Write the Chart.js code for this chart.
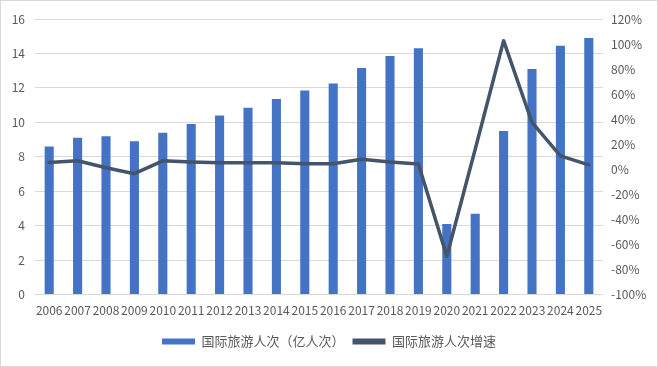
<!DOCTYPE html>
<html>
<head>
<meta charset="utf-8">
<script src="https://cdn.jsdelivr.net/npm/chart.js@4/dist/chart.umd.min.js"></script>
<style>
  html, body { margin: 0; padding: 0; background: #fff; }
  #wrap { width: 656px; height: 365px; border: 1px solid #d9d9d9; position: relative; }
</style>
</head>
<body>
<div id="wrap"><canvas id="chart" width="656" height="365"></canvas></div>
<script>
// data
const years = ['2006','2007','2008','2009','2010','2011','2012','2013','2014','2015',
               '2016','2017','2018','2019','2020','2021','2022','2023','2024','2025'];
const arrivals = [8.6, 9.1, 9.2, 8.9, 9.4, 9.9, 10.4, 10.85, 11.35, 11.85,
                  12.25, 13.15, 13.85, 14.3, 4.1, 4.7, 9.5, 13.1, 14.45, 14.9];
const growth = [0.055, 0.068, 0.013, -0.035, 0.068, 0.058, 0.052, 0.052, 0.052, 0.044,
                0.044, 0.08, 0.058, 0.042, -0.694, 0.16, 1.027, 0.374, 0.108, 0.036];

const barLabel = '国际旅游人次（亿人次）';
const lineLabel = '国际旅游人次增速';

const fontFamily = '"Noto Sans CJK SC", "Noto Sans", sans-serif';
const textColor = '#595959';

const ctx = document.getElementById('chart');
new Chart(ctx, {
    data: {
        labels: years,
        datasets: [
            {
                type: 'bar',
                label: barLabel,
                data: arrivals,
                backgroundColor: '#4472C4',
                borderWidth: 0,
                categoryPercentage: 1,
                barPercentage: 0.32,
                yAxisID: 'y',
                order: 1
            },
            {
                type: 'line',
                label: lineLabel,
                data: growth,
                borderColor: '#44546A',
                backgroundColor: '#44546A',
                borderWidth: 3.5,
                tension: 0,
                pointRadius: 0,
                borderJoinStyle: 'round',
                borderCapStyle: 'round',
                yAxisID: 'y1',
                order: 0
            }
        ]
    },
    options: {
        responsive: false,
        animation: false,
        layout: { padding: { top: 18, bottom: 8, left: 0, right: 0 } },
        plugins: {
            tooltip: { enabled: false },
            legend: {
                position: 'bottom',
                labels: {
                    boxWidth: 33,
                    boxHeight: 6,
                    padding: 8,
                    color: textColor,
                    font: { family: fontFamily, size: 13 },
                    sort: (a, b) => a.datasetIndex - b.datasetIndex,
                    generateLabels: function (chart) {
                        const items = Chart.defaults.plugins.legend.labels.generateLabels(chart);
                        // plain filled swatches, no outline
                        items.forEach(function (item) { item.lineWidth = 0; });
                        return items;
                    }
                }
            }
        },
        scales: {
            x: {
                grid: { display: false, drawTicks: false },
                border: { display: false },
                ticks: {
                    color: textColor,
                    font: { family: fontFamily, size: 12 },
                    padding: 9,
                    maxRotation: 0,
                    autoSkip: false
                }
            },
            y: {
                position: 'left',
                min: 0,
                max: 16,
                grid: { color: '#d9d9d9', drawTicks: false },
                border: { display: false },
                ticks: {
                    stepSize: 2,
                    color: textColor,
                    font: { family: fontFamily, size: 12 },
                    padding: 10
                },
                afterFit: function (scale) { scale.width = 34; }
            },
            y1: {
                position: 'right',
                min: -1,
                max: 1.2,
                grid: { display: false, drawTicks: false },
                border: { display: false },
                ticks: {
                    stepSize: 0.2,
                    color: textColor,
                    font: { family: fontFamily, size: 12 },
                    padding: 8,
                    callback: function (v) { return Math.round(v * 100) + '%'; }
                },
                afterFit: function (scale) { scale.width = 54; }
            }
        }
    }
});
</script>
</body>
</html>
